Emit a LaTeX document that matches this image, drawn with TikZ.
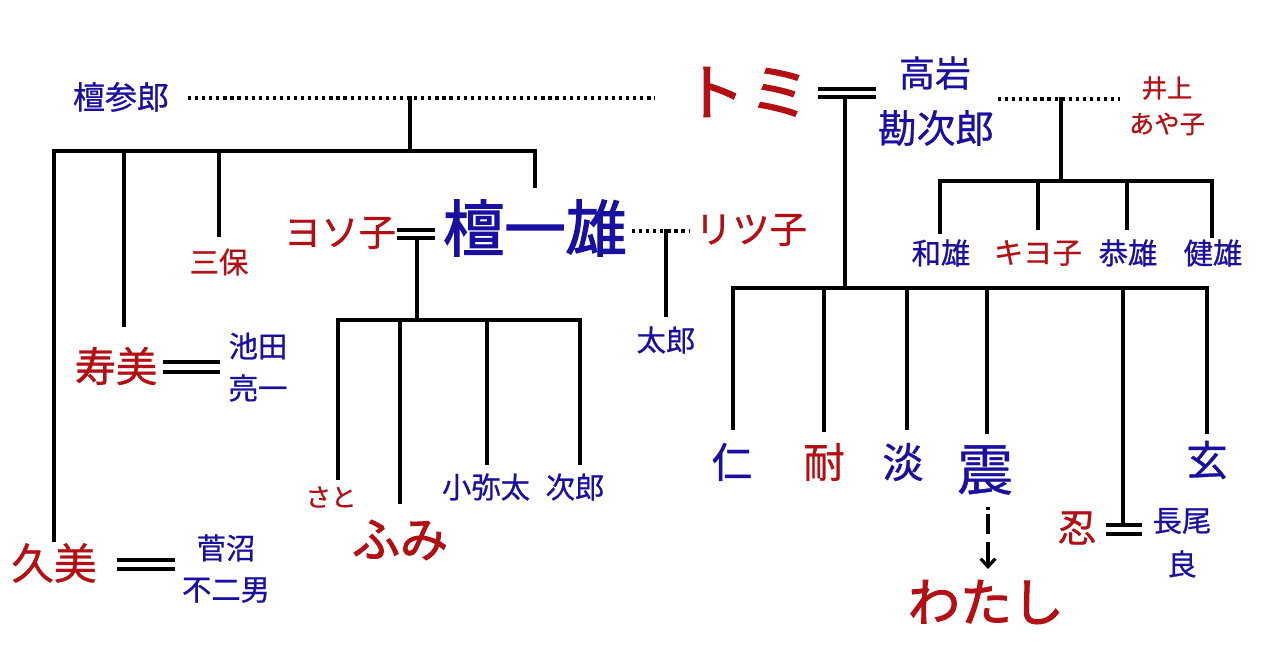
\documentclass[tikz,border=0pt]{standalone}
\usepackage{fontspec}
\usetikzlibrary{arrows.meta}
\newfontfamily\cjk{Noto Sans CJK JP}[FakeBold=0.7]
\newfontfamily\cjkb{Noto Sans CJK JP}[FakeBold=2]
\definecolor{rd}{RGB}{180,15,20}
\definecolor{bl}{RGB}{25,15,160}
\tikzset{
  lbl/.style={inner sep=0pt, font=\cjk\fontsize{#1}{#1}\selectfont},
  lblb/.style={inner sep=0pt, font=\cjkb\fontsize{#1}{#1}\selectfont},
  rn/.style={lbl=#1, text=rd},
  bn/.style={lbl=#1, text=bl},
  rnb/.style={lblb=#1, text=rd},
  bnb/.style={lblb=#1, text=bl},
  ln/.style={line width=2.7pt, line cap=rect},
  dotl/.style={line width=2.4pt, dash pattern=on 2.4pt off 2.9pt},
  marr/.style={line width=2.4pt},
  arr/.style={line width=2.8pt, dash pattern=on 2.5pt off 3pt on 15pt off 6pt on 30pt, -{Straight Barb[length=6pt,width=11pt,line width=2.4pt]}}
}
\begin{document}
\begin{tikzpicture}[x=0.75pt,y=-0.75pt]
\useasboundingbox[fill=white] (0,0) rectangle (1280,670);
% ---------- nodes ----------
\node[bn=24] (sanro) at (121,97) {檀参郎};
\node[rnb=46] (tomi) at (747,92) {ト\hspace{3pt}ミ};
\node[bn=27] (takaiwa) at (935,73) {高岩};
\node[bn=29] (kanjiro) at (936,128) {勘次郎};
\node[rn=19] (inoue) at (1167,88) {井上};
\node[rn=19] (ayako) at (1167,124) {あや子};
\node[bn=22] (kazuo) at (941,253) {和雄};
\node[rn=22] (kiyoko) at (1038,253) {キヨ子};
\node[bn=22] (yasuo) at (1128,253) {恭雄};
\node[bn=22] (takeo) at (1213,253) {健雄};
\node[rn=22] (sanpo) at (219,262) {三保};
\node[rn=28] (yosoko) at (340,233) {ヨソ子};
\node[bnb=46] (dan) at (535,228) {檀一雄};
\node[rn=28] (ritsuko) at (751,230) {リツ子};
\node[bn=22] (taro) at (666,340) {太郎};
\node[rn=19] (sato) at (331,497) {さと};
\node[rnb=36] (fumi) at (400,540) {ふみ};
\node[bn=22] (koyata) at (486,487) {小弥太};
\node[bn=22] (jiro) at (575,487) {次郎};
\node[rn=31] (sumi) at (116,366) {寿美};
\node[bn=22] (ikeda) at (258,346) {池田};
\node[bn=22] (ryoichi) at (258,388) {亮一};
\node[rn=32] (kumi) at (54,563) {久美};
\node[bn=22] (sugenuma) at (226,548) {菅沼};
\node[bn=22] (fujio) at (226,590) {不二男};
\node[bn=31] (jin) at (732,462) {仁};
\node[rn=31] (tai) at (824,462) {耐};
\node[bn=31] (tan) at (903,462) {淡};
\node[bn=42] (shin) at (985,470) {震};
\node[bn=31] (gen) at (1207,460) {玄};
\node[rn=29] (shinobu) at (1077,528) {忍};
\node[bn=22] (nagao) at (1182,521) {長尾};
\node[bn=22] (ryo) at (1182,564) {良};
\node[rnb=39] (watashi) at (986,602) {わたし};
% ---------- coordinates ----------
\coordinate (sL) at (188,98);  \coordinate (sR) at (655,98);  \coordinate (sJ) at (410,98);
\coordinate (sB) at (410,151);
\coordinate (kumiT) at (54,540); \coordinate (sumiT) at (124,325);
\coordinate (sanpoT) at (219,235); \coordinate (danT) at (535,186);
\coordinate (tL) at (818,89); \coordinate (tR) at (876,89);
\coordinate (tL2) at (818,97); \coordinate (tR2) at (876,97); \coordinate (tJ) at (845,97);
\coordinate (tB) at (845,288);
\coordinate (jinT) at (733,428); \coordinate (taiT) at (824,430); \coordinate (tanT) at (907,428);
\coordinate (shinT) at (987,432); \coordinate (shinobuT) at (1123,525); \coordinate (genT) at (1207,432);
\coordinate (iL) at (998,99); \coordinate (iR) at (1120,99); \coordinate (iJ) at (1061,99);
\coordinate (iB) at (1061,181);
\coordinate (kazuoT) at (940,232); \coordinate (kiyokoT) at (1038,228);
\coordinate (yasuoT) at (1127,228); \coordinate (takeoT) at (1212,236);
\coordinate (yL) at (397,230); \coordinate (yR) at (435,230);
\coordinate (yL2) at (397,238); \coordinate (yR2) at (435,238); \coordinate (yJ) at (417,238);
\coordinate (yB) at (417,320);
\coordinate (satoT) at (338,478); \coordinate (fumiT) at (400,502);
\coordinate (koyataT) at (487,463); \coordinate (jiroT) at (580,463);
\coordinate (rL) at (632,231); \coordinate (rR) at (690,231); \coordinate (rJ) at (666,231);
\coordinate (taroT) at (666,315);
\coordinate (mA1) at (163,362); \coordinate (mA2) at (220,362);
\coordinate (mA3) at (163,372); \coordinate (mA4) at (220,372);
\coordinate (mB1) at (117,560); \coordinate (mB2) at (175,560);
\coordinate (mB3) at (117,569); \coordinate (mB4) at (175,569);
\coordinate (mC1) at (1106,525); \coordinate (mC2) at (1142,525);
\coordinate (mC3) at (1106,534); \coordinate (mC4) at (1142,534);
\coordinate (aT) at (988,507); \coordinate (aB) at (988,569);
% ---------- Dan Sanro family ----------
\draw[dotl] (sL) -- (sR);
\draw[ln] (sJ) -- (sB);
\draw[ln] (kumiT) |- (sB);
\draw[ln] (sB) -| (danT);
\draw[ln] (sumiT) -- (sumiT |- sB);
\draw[ln] (sanpoT) -- (sanpoT |- sB);
% ---------- Tomi family ----------
\draw[marr] (tL) -- (tR);
\draw[marr] (tL2) -- (tR2);
\draw[ln] (tJ) -- (tB);
\draw[ln] (jinT) |- (tB) -| (genT);
\draw[ln] (taiT) -- (taiT |- tB);
\draw[ln] (tanT) -- (tanT |- tB);
\draw[ln] (shinT) -- (shinT |- tB);
\draw[ln] (shinobuT) -- (shinobuT |- tB);
% ---------- Takaiwa / Inoue ----------
\draw[dotl] (iL) -- (iR);
\draw[ln] (iJ) -- (iB);
\draw[ln] (kazuoT) |- (iB) -| (takeoT);
\draw[ln] (kiyokoT) -- (kiyokoT |- iB);
\draw[ln] (yasuoT) -- (yasuoT |- iB);
% ---------- Yosoko / Dan Kazuo ----------
\draw[marr] (yL) -- (yR);
\draw[marr] (yL2) -- (yR2);
\draw[ln] (yJ) -- (yB);
\draw[ln] (satoT) |- (yB) -| (jiroT);
\draw[ln] (fumiT) -- (fumiT |- yB);
\draw[ln] (koyataT) -- (koyataT |- yB);
% ---------- Ritsuko ----------
\draw[dotl] (rL) -- (rR);
\draw[ln] (rJ) -- (taroT);
% ---------- marriages ----------
\draw[marr] (mA1) -- (mA2);
\draw[marr] (mA3) -- (mA4);
\draw[marr] (mB1) -- (mB2);
\draw[marr] (mB3) -- (mB4);
\draw[marr] (mC1) -- (mC2);
\draw[marr] (mC3) -- (mC4);
% ---------- arrow ----------
\draw[arr] (aT) -- (aB);
\end{tikzpicture}
\end{document}
